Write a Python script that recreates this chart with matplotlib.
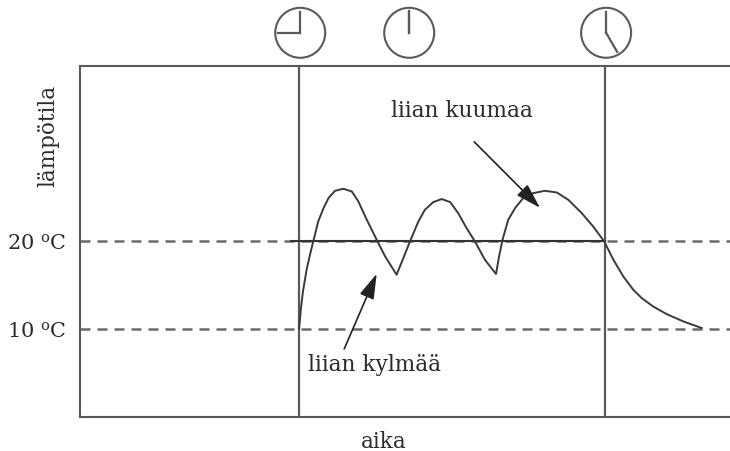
# -*- coding: utf-8 -*-
import matplotlib
matplotlib.use("Agg")
import matplotlib.pyplot as plt
from matplotlib.patches import Ellipse
import numpy as np

plt.rcParams['font.family'] = ['DejaVu Serif']
plt.rcParams['mathtext.fontset'] = 'dejavuserif'

# Time in hours, temperature in celsius
hours = [9.00, 9.05, 9.10, 9.20, 9.29, 9.37, 9.50, 9.64, 9.77, 9.94, 10.16, 10.38,
         10.55, 10.77, 11.03, 11.25, 11.55, 11.73, 11.90, 12.12, 12.29, 12.51,
         12.73, 12.95, 13.16, 13.38, 13.60, 13.86, 14.15, 14.23, 14.32, 14.47,
         14.65, 14.86, 15.13, 15.43, 15.74, 16.04, 16.39, 16.69, 16.98, 17.22,
         17.48, 17.74, 17.96, 18.26, 18.61, 19.05, 19.53]
temps = [10.00, 12.40, 14.20, 16.80, 18.50, 19.92, 22.19, 23.72, 24.85, 25.68, 25.91, 25.60,
         24.47, 22.39, 20.11, 18.22, 16.14, 18.07, 19.92, 22.19, 23.52, 24.40,
         24.74, 24.40, 23.15, 21.44, 19.92, 17.84, 16.22, 18.22, 20.11, 22.39,
         23.72, 24.85, 25.42, 25.68, 25.49, 24.66, 23.15, 21.63, 19.92, 17.84,
         15.94, 14.43, 13.49, 12.53, 11.67, 10.83, 10.08]

setpoints = [10, 20]
setpoint_labels = ['10 $^{\\mathrm{o}}$C', '20 $^{\\mathrm{o}}$C']
switch_times = [9, 17]
target_span = [8.8, 17]
clock_times = [9, 12, 17]
clock_x = [9.03, 11.88, 17.03]

line_col = '#5a5a5a'
ink = '#2b2b2b'

fig = plt.figure(figsize=(7.3, 4.52), dpi=100)
ax = fig.add_axes([80 / 730, 1 - 417.7 / 452, 650 / 730, 351 / 452])

# 38.25 px per hour, 8.8 px per degree
ax.set_xlim(3.27, 20.27)
ax.set_ylim(0, 39.9)
px_x = 1 / 38.25
px_y = 1 / 8.8

for side in ['left', 'top', 'bottom']:
    ax.spines[side].set_color(line_col)
    ax.spines[side].set_linewidth(1.5)
ax.spines['right'].set_visible(False)

ax.set_xticks([])
ax.set_yticks(setpoints)
ax.set_yticklabels(setpoint_labels, fontsize=15, color=ink)
ax.tick_params(axis='y', length=0, pad=10)

ax.set_xlabel('aika', fontsize=15.5, color=ink)
ax.xaxis.set_label_coords(0.468, -0.068, transform=ax.transAxes)
ax.xaxis.label.set_verticalalignment('center')
ax.set_ylabel('lämpötila', fontsize=15.5, color=ink)
ax.yaxis.set_label_coords(-0.049, 0.803, transform=ax.transAxes)
ax.yaxis.label.set_verticalalignment('center')

# Reference lines
for t in setpoints:
    ax.axhline(t, color='#6a6a6a', lw=1.8, dashes=(4, 2.8))
for t in switch_times:
    ax.axvline(t, color=line_col, lw=1.6)
ax.plot(target_span, [20, 20], color='#333333', lw=1.5)

# Temperature curve
ax.plot(hours, temps, color='#3a3a3a', lw=1.4, solid_joinstyle='round')

# Clocks over the axes
clock_y = 43.64
for t, cx in zip(clock_times, clock_x):
    ax.add_patch(Ellipse((cx, clock_y), 50 * px_x, 50 * px_y, fill=False,
                         edgecolor=line_col, lw=1.5, clip_on=False))
    angle = np.deg2rad(t * 30)
    ax.plot([cx, cx], [clock_y, clock_y + 21 * px_y], color=line_col, lw=1.6, clip_on=False)
    ax.plot([cx, cx + 22 * np.sin(angle) * px_x], [clock_y, clock_y + 22 * np.cos(angle) * px_y],
            color=line_col, lw=1.6, clip_on=False)

# Labels with arrows
ax.text(13.26, 34.9, 'liian kuumaa', fontsize=15.6, color=ink, ha='center', va='center')
ax.text(10.96, 6.0, 'liian kylmää', fontsize=15.6, color=ink, ha='center', va='center')
arrow_style = '-|>,head_length=1.1,head_width=0.33'
ax.annotate('', xy=(15.3, 23.75), xytext=(13.58, 31.25),
            arrowprops=dict(arrowstyle=arrow_style, color='#222222', lw=1.2, mutation_scale=14,
                            shrinkA=0, shrinkB=0))
ax.annotate('', xy=(11.03, 16.25), xytext=(10.18, 7.7),
            arrowprops=dict(arrowstyle=arrow_style, color='#222222', lw=1.2, mutation_scale=14,
                            shrinkA=0, shrinkB=0))

plt.savefig('out.png', dpi=100)
